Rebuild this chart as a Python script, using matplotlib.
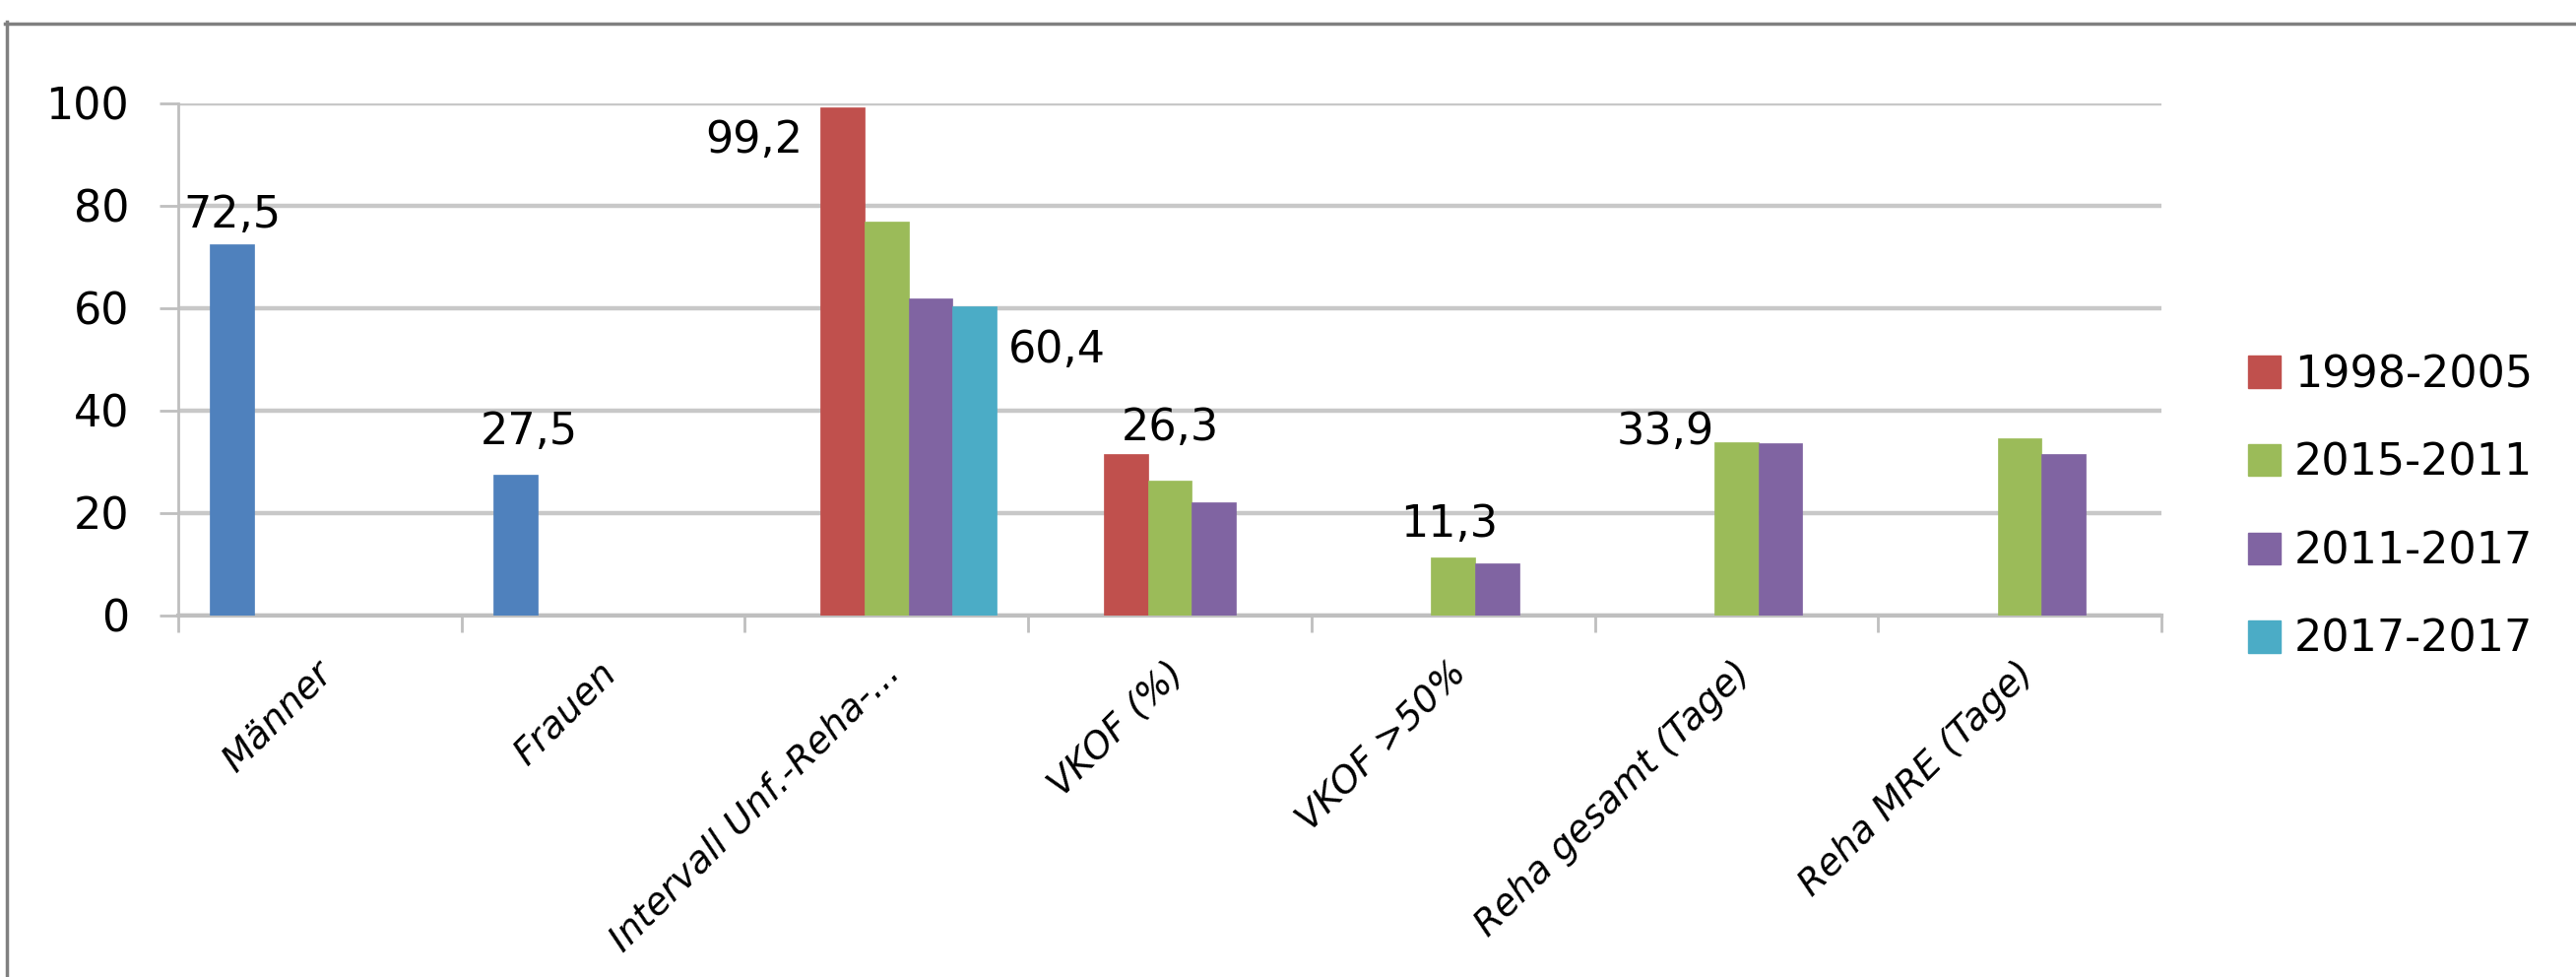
import numpy as np
import matplotlib
matplotlib.use('Agg')
import matplotlib.pyplot as plt
from matplotlib.patches import Patch
from matplotlib.lines import Line2D
import matplotlib.transforms as mtransforms

plt.rcParams['font.family'] = ['DejaVu Sans']

# data
categories = ['Männer', 'Frauen', 'Intervall Unf.-Reha-...', 'VKOF (%)',
              'VKOF >50%', 'Reha gesamt (Tage)', 'Reha MRE (Tage)']
nan = np.nan
geschlecht = [72.5, 27.5, nan, nan, nan, nan, nan]
s_1998_2005 = [nan, nan, 99.2, 31.5, nan, nan, nan]
s_2015_2011 = [nan, nan, 77.0, 26.3, 11.3, 33.9, 34.6]
s_2011_2017 = [nan, nan, 62.0, 22.2, 10.2, 33.7, 31.5]
s_2017_2017 = [nan, nan, 60.4, nan, nan, nan, nan]
legend_labels = ['1998-2005', '2015-2011', '2011-2017', '2017-2017']

series = [geschlecht, s_1998_2005, s_2015_2011, s_2011_2017, s_2017_2017]
colors = ['#4F81BD', '#C0504D', '#9BBB59', '#8064A2', '#4BACC6']

fig = plt.figure(figsize=(26.16, 9.92), dpi=100)
ax = fig.add_axes([181 / 2616, 1 - 625 / 992, 2014 / 2616, 520 / 992])

x = np.arange(len(categories))
w = 0.155
for i, (vals, col) in enumerate(zip(series, colors)):
    ax.bar(x + (i - 2) * w, vals, width=w, color=col, zorder=3,
           edgecolor=col, linewidth=0.5)

# data labels: (series, category, ha, va, dx pt, dy pt, anchor on bar)
label_spec = [
    (0, 0, 'center', 'bottom', 0, 6, 'top'),
    (0, 1, 'center', 'bottom', 10, 16, 'top'),
    (1, 2, 'right', 'center', -13, -24, 'left'),
    (4, 2, 'left', 'center', 9, -32, 'right'),
    (2, 3, 'center', 'bottom', 0, 23, 'top'),
    (2, 4, 'center', 'bottom', -3, 9, 'top'),
    (2, 5, 'right', 'center', 0, 7, 'left'),
]
for si, ci, ha, va, dx, dy, anc in label_spec:
    v = series[si][ci]
    bx = x[ci] + (si - 2) * w
    if anc == 'left':
        bx -= w / 2
    elif anc == 'right':
        bx += w / 2
    ax.annotate(f'{v:.1f}'.replace('.', ','), xy=(bx, v), xytext=(dx, dy),
                textcoords='offset points', ha=ha, va=va, fontsize=32,
                color='#000000', zorder=5)

ax.set_xlim(-0.5, len(categories) - 0.5)
ax.set_ylim(0, 100)
ax.set_yticks(np.arange(0, 101, 20))
ax.yaxis.grid(True, color='#c8c8c8', linewidth=3.2, zorder=0)
ax.tick_params(axis='y', length=14, width=2, color='#bfbfbf', pad=22,
               labelsize=32)

ax.set_xticks(np.arange(-0.5, len(categories), 1))
ax.set_xticklabels([])
ax.tick_params(axis='x', which='major', length=12, width=2, color='#bfbfbf')
ax.set_xticks(x, minor=True)
ax.set_xticklabels(categories, minor=True, rotation=45, ha='right',
                   va='center', rotation_mode='anchor', fontsize=27,
                   style='italic')
ax.tick_params(axis='x', which='minor', length=0, pad=38)
shift = mtransforms.ScaledTranslation(8 / 100, 0, fig.dpi_scale_trans)
for lbl in ax.get_xticklabels(minor=True):
    lbl.set_transform(lbl.get_transform() + shift)

for s in ['top', 'right']:
    ax.spines[s].set_visible(False)
ax.spines['left'].set_color('#bfbfbf')
ax.spines['left'].set_linewidth(2)
ax.spines['bottom'].set_color('#bfbfbf')
ax.spines['bottom'].set_linewidth(3)

handles = [Patch(facecolor=c, edgecolor=c) for c in colors[1:]]
fig.legend(handles, legend_labels, loc='center left',
           bbox_to_anchor=(2283 / 2616, 1 - 515 / 992), frameon=False,
           fontsize=32, handlelength=0.75, handleheight=0.75,
           handletextpad=0.3, labelspacing=1.05, borderpad=0,
           borderaxespad=0)

# outer frame (top and left only)
fig.add_artist(Line2D([5 / 2616, 1], [1 - 23.5 / 992] * 2, color='#808080',
                      linewidth=2.5, transform=fig.transFigure))
fig.add_artist(Line2D([6.5 / 2616] * 2, [0, 1 - 22 / 992], color='#808080',
                      linewidth=2.5, transform=fig.transFigure))

fig.savefig('out.png', dpi=100)
